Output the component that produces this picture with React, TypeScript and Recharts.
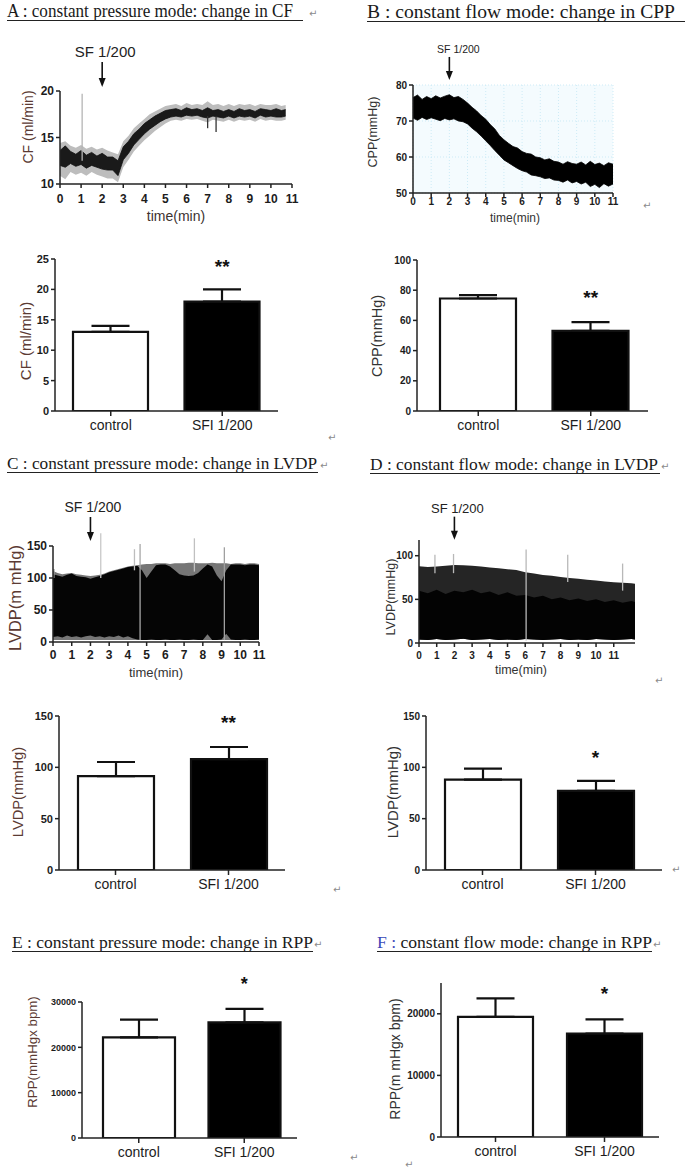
import React from 'react'
import {
  ComposedChart, BarChart, Bar, Area, XAxis, YAxis, Cell, ErrorBar,
  ReferenceDot, ReferenceLine, CartesianGrid,
} from 'recharts'

const SANS = '"Liberation Sans", Arial, sans-serif'
const SERIF = '"Liberation Serif", "Times New Roman", serif'
const INK = '#1c1c1c'
const BROWN = '#5b3a33'
const AX = { stroke: '#222', strokeWidth: 1.5 }

// ---- shared
const minuteTicks = [0, 1, 2, 3, 4, 5, 6, 7, 8, 9, 10, 11]
const groups = ['control', 'SFI 1/200']

// ---- A: constant pressure, CF trace (ml/min)
const cfTime = [0, 0.25, 0.5, 0.75, 1, 1.25, 1.5, 1.75, 2, 2.25, 2.5, 2.75, 3, 3.25, 3.5, 3.75, 4, 4.25, 4.5, 4.75, 5, 5.25, 5.5, 5.75, 6, 6.25, 6.5, 6.75, 7, 7.25, 7.5, 7.75, 8, 8.25, 8.5, 8.75, 9, 9.25, 9.5, 9.75, 10, 10.25, 10.5, 10.7]
const cfCoreHi = [13.6, 14.1, 13.5, 13.2, 13.6, 13.1, 13.4, 13.0, 13.3, 12.9, 12.9, 12.5, 14.0, 14.6, 15.4, 15.9, 16.5, 16.9, 17.3, 17.6, 17.9, 18.0, 18.1, 17.9, 18.2, 18.0, 18.1, 17.9, 18.2, 17.9, 18.0, 17.8, 18.0, 17.8, 18.1, 17.9, 18.0, 17.8, 18.1, 18.0, 17.9, 18.1, 17.9, 18.0]
const cfCoreLo = [12.0, 11.8, 12.2, 11.9, 12.1, 11.7, 12.0, 11.8, 11.6, 11.5, 11.5, 10.9, 12.6, 13.3, 14.2, 14.8, 15.4, 15.9, 16.3, 16.7, 17.0, 17.2, 17.3, 17.2, 17.4, 17.3, 17.4, 17.2, 17.1, 17.3, 17.2, 17.1, 17.3, 17.1, 17.3, 17.2, 17.3, 17.1, 17.4, 17.2, 17.3, 17.2, 17.2, 17.3]
const cfHaloHi = [14.4, 14.6, 14.1, 13.9, 14.2, 13.8, 14.0, 13.7, 13.9, 13.6, 13.4, 13.2, 14.6, 15.2, 16.0, 16.5, 17.0, 17.5, 17.8, 18.1, 18.4, 18.5, 18.6, 18.4, 18.7, 18.5, 18.6, 18.5, 18.9, 18.5, 18.6, 18.4, 18.6, 18.4, 18.6, 18.5, 18.6, 18.4, 18.6, 18.5, 18.5, 18.6, 18.4, 18.5]
const cfHaloLo = [10.9, 10.5, 11.3, 11.0, 11.2, 10.9, 11.3, 11.0, 10.8, 10.6, 10.6, 10.2, 11.8, 12.6, 13.5, 14.1, 14.7, 15.2, 15.7, 16.1, 16.5, 16.8, 16.9, 16.8, 17.0, 16.9, 17.0, 16.8, 16.6, 16.9, 16.8, 16.7, 16.9, 16.7, 16.9, 16.8, 16.9, 16.7, 17.0, 16.8, 16.9, 16.8, 16.8, 16.9]
const cfSpikeT = [1.05, 7.0, 7.4]
const cfSpikeFrom = [12.5, 17.3, 17.2]
const cfSpikeTo = [19.7, 16.0, 15.6]

// ---- B: constant flow, CPP trace (mmHg)
const cppTime = [0, 0.25, 0.5, 0.75, 1, 1.25, 1.5, 1.75, 2, 2.25, 2.5, 2.75, 3, 3.25, 3.5, 3.75, 4, 4.25, 4.5, 4.75, 5, 5.25, 5.5, 5.75, 6, 6.25, 6.5, 6.75, 7, 7.25, 7.5, 7.75, 8, 8.25, 8.5, 8.75, 9, 9.25, 9.5, 9.75, 10, 10.25, 10.5, 10.75, 11]
const cppHi = [76.5, 77.2, 76.0, 76.8, 76.2, 77.0, 76.4, 76.9, 77.3, 76.5, 76.8, 76.0, 75.0, 73.8, 72.8, 71.5, 70.5, 69.0, 67.8, 66.0, 64.8, 63.8, 62.9, 62.5, 61.5, 61.0, 60.8, 60.0, 59.8, 59.2, 59.5, 58.8, 58.6, 58.0, 58.7, 58.2, 58.0, 58.6, 57.8, 58.8, 57.9, 58.3, 57.6, 58.4, 58.0]
const cppLo = [70.8, 70.2, 71.0, 70.4, 70.9, 70.5, 70.1, 70.7, 70.3, 70.6, 70.0, 69.8, 69.2, 68.0, 67.0, 65.8, 64.5, 63.2, 61.8, 60.5, 59.2, 58.4, 57.6, 56.8, 56.2, 55.8, 55.0, 54.8, 54.5, 54.0, 54.2, 53.6, 53.5, 53.0, 53.6, 52.8, 53.2, 52.5, 53.0, 51.8, 52.4, 51.5, 52.6, 51.9, 52.5]

// ---- C: constant pressure, LVDP trace (mmHg)
const lvpTime = cppTime
const lvpEnv = [111, 108, 106, 107, 108, 106, 105, 104, 103, 104, 105, 107, 110, 112, 114, 116, 118, 119, 120, 121, 122, 122, 123, 123, 123, 122, 123, 123, 123, 124, 124, 123, 123, 123, 124, 123, 123, 123, 122, 123, 123, 122, 123, 123, 122]
const lvpTop = [106, 104, 102, 105, 107, 103, 102, 101, 99, 101, 103, 106, 109, 111, 113, 115, 117, 118, 119, 112, 100, 110, 120, 121, 121, 118, 112, 106, 104, 103, 104, 108, 115, 121, 118, 104, 95, 112, 121, 121, 121, 120, 121, 121, 120]
const lvpBase = [8, 9, 7, 10, 8, 9, 7, 9, 10, 8, 9, 7, 9, 8, 10, 7, 9, 6, 4, 3, 3, 4, 3, 3, 4, 3, 3, 4, 3, 3, 4, 3, 3, 12, 3, 3, 4, 13, 4, 3, 3, 4, 3, 3, 4]
const lvpSpikeT = [0.05, 2.55, 4.35, 4.65, 7.55, 9.15]
const lvpSpikeFrom = [100, 100, 112, 3, 110, 3]
const lvpSpikeTo = [114, 170, 145, 153, 162, 148]

// ---- D: constant flow, LVDP trace (mmHg)
const lvfTime = [0, 0.5, 1, 1.5, 2, 2.5, 3, 3.5, 4, 4.5, 5, 5.5, 6, 6.5, 7, 7.5, 8, 8.5, 9, 9.5, 10, 10.5, 11, 11.5, 12, 12.2]
const lvfEnv = [88, 87, 87.5, 88.5, 89.5, 89, 88.5, 87.5, 86.5, 85.5, 84.5, 83.5, 81, 79.5, 78, 77, 75.5, 74.5, 73.5, 72.5, 71.5, 70.5, 69.5, 69, 68.5, 68]
const lvfTop = [60, 57, 61, 56, 60, 58, 61, 57, 59, 55, 58, 54, 55, 52, 54, 50, 52, 49, 51, 48, 50, 47, 49, 46, 48, 47]
const lvfBase = [4, 3.5, 4.5, 3.5, 4, 5, 3.5, 4, 4.5, 3.5, 4, 3.5, 4.5, 4, 3.5, 4, 4.5, 3.5, 4, 3.5, 4.5, 4, 3.5, 4, 4.5, 4]
const lvfSpikeT = [0.9, 1.95, 6.05, 8.4, 11.5]
const lvfSpikeFrom = [80, 80, 3, 70, 60]
const lvfSpikeTo = [101, 102, 107, 101, 91]

// ---- bar summaries (mean, SEM)
const cfMean = [13, 18]
const cfSem = [1, 2]
const cppMean = [74.5, 53]
const cppSem = [2.3, 5.8]
const lvpMean = [91.5, 108]
const lvpSem = [13.7, 11.8]
const lvfMean = [88, 77]
const lvfSem = [10.8, 9.8]
const rppPMean = [22200, 25500]
const rppPSem = [3900, 3000]
const rppFMean = [19500, 16800]
const rppFSem = [3000, 2300]

const cfRows = cfTime.map((t, i) => ({ t, halo: [cfHaloLo[i], cfHaloHi[i]], core: [cfCoreLo[i], cfCoreHi[i]] }))
const cppRows = cppTime.map((t, i) => ({ t, band: [cppLo[i], cppHi[i]] }))
const lvpRows = lvpTime.map((t, i) => ({ t, env: [3, lvpEnv[i]], core: [lvpBase[i], lvpTop[i]] }))
const lvfRows = lvfTime.map((t, i) => ({ t, env: [lvfBase[i], lvfEnv[i]], core: [lvfBase[i], lvfTop[i]] }))

function Arrow(p: any) {
  const { cx, cy, len, gap, size, dx } = p
  return (
    <g>
      <text x={cx + dx} y={cy - len - gap} textAnchor="middle" fontSize={size} fontFamily={SANS} fill="#222">SF 1/200</text>
      <line x1={cx} y1={cy - len} x2={cx} y2={cy - 7} stroke="#111" strokeWidth={1.6} />
      <path d={`M${cx - 3.5},${cy - 9}L${cx + 3.5},${cy - 9}L${cx},${cy}Z`} fill="#111" />
    </g>
  )
}

const stars = (txt: string, size: number) => (p: any) => (
  <text x={p.cx} y={p.cy + size * 0.56} textAnchor="middle" fontSize={size} fontWeight="bold" fontFamily={SANS} fill="#111">{txt}</text>
)

function spikes(ts: number[], from: number[], to: number[], colors: string[]) {
  return ts.map((t, i) => (
    <ReferenceLine key={'s' + i} segment={[{ x: t, y: from[i] }, { x: t, y: to[i] }]}
      stroke={colors[i % colors.length]} strokeWidth={1.3} ifOverflow="visible" />
  ))
}

type TraceProps = {
  x: number; y: number; w: number; h: number; yW: number; mTop: number; xH: number
  rows: any[]; xDomain: [number, number]; yDomain: [number, number]; yTicks: number[]
  tickFont: number; tickGap: number; grid?: boolean; children: React.ReactNode
}

function TracePanel(p: TraceProps) {
  const mR = 10
  const tick = { fontSize: p.tickFont, fontWeight: 'bold', fill: INK, fontFamily: SANS }
  return (
    <div style={{ position: 'absolute', left: p.x - p.yW, top: p.y - p.mTop }}>
      <ComposedChart width={p.yW + p.w + mR} height={p.mTop + p.h + p.xH} data={p.rows}
        margin={{ top: p.mTop, right: mR, bottom: 0, left: 0 }}>
        {p.grid && <CartesianGrid stroke="#cdebf6" strokeDasharray="1 2" fill="#f4fbfe" />}
        <XAxis type="number" dataKey="t" domain={p.xDomain} ticks={minuteTicks} interval={0} allowDataOverflow
          height={p.xH} tickSize={4} tickMargin={p.tickGap - 4} axisLine={AX} tickLine={AX} tick={tick} />
        <YAxis type="number" domain={p.yDomain} ticks={p.yTicks} interval={0} allowDataOverflow
          width={p.yW} tickSize={4} tickMargin={2} axisLine={AX} tickLine={AX} tick={tick} />
        {p.children}
      </ComposedChart>
    </div>
  )
}

type BarProps = {
  x: number; y: number; w: number; h: number; yW: number; mTop: number
  mean: number[]; sem: number[]; domain: [number, number]; ticks: number[]
  tickFont: number; barW: number; pad?: { left: number; right: number }
  star: string; starY: number; starSize: number
}

function BarPanel(p: BarProps) {
  const mR = 12
  const xH = 28
  const rows = groups.map((g, i) => ({ g, v: p.mean[i], e: [0, p.sem[i]] }))
  return (
    <div style={{ position: 'absolute', left: p.x - p.yW, top: p.y - p.mTop }}>
      <BarChart width={p.yW + p.w + mR} height={p.mTop + p.h + xH} data={rows}
        margin={{ top: p.mTop, right: mR, bottom: 0, left: 0 }}>
        <XAxis dataKey="g" height={xH} padding={p.pad ?? { left: 0, right: 0 }} interval={0}
          tickSize={5} tickMargin={4} axisLine={AX} tickLine={AX}
          tick={{ fontSize: 14, fill: INK, fontFamily: SANS }} />
        <YAxis type="number" domain={p.domain} ticks={p.ticks} interval={0} allowDataOverflow width={p.yW}
          tickSize={4} tickMargin={2} axisLine={AX} tickLine={AX}
          tick={{ fontSize: p.tickFont, fontWeight: 'bold', fill: INK, fontFamily: SANS }} />
        <Bar dataKey="v" barSize={p.barW} stroke="#111" strokeWidth={2.2} isAnimationActive={false}>
          {rows.map((r, i) => <Cell key={r.g} fill={i === 0 ? '#fff' : '#000'} />)}
          <ErrorBar dataKey="e" width={19} strokeWidth={2.2} stroke="#111" direction="y" />
        </Bar>
        <ReferenceDot x={groups[1]} y={p.starY} r={0} ifOverflow="visible" shape={stars(p.star, p.starSize)} />
      </BarChart>
    </div>
  )
}

function Title({ x, y, len, size, end, children }: any) {
  return (
    <g>
      <text x={x} y={y} textLength={len} lengthAdjust="spacingAndGlyphs" fontSize={size} fontFamily={SERIF} fill="#1a1a1a">{children}</text>
      <line x1={x} y1={y + 3.5} x2={end} y2={y + 3.5} stroke="#222" strokeWidth={1} />
    </g>
  )
}

function AxisTitle({ x, y, size, fill = '#333', rotate = true, children }: any) {
  return (
    <text x={x} y={y} transform={rotate ? `rotate(-90 ${x} ${y})` : undefined} textAnchor="middle"
      dominantBaseline="central" fontSize={size} fontFamily={SANS} fill={fill}>{children}</text>
  )
}

function Ret({ x, y }: { x: number; y: number }) {
  return <text x={x} y={y} fontSize={10} fontFamily="DejaVu Sans" fill="#8a8a8a">↵</text>
}

export default function App() {
  return (
    <div style={{ position: 'absolute', left: 0, top: 0, width: 685, height: 1175, background: '#fff', overflow: 'hidden' }}>
      <svg width={685} height={1175} style={{ position: 'absolute', left: 0, top: 0 }}>
        <Title x={7} y={17} len={286} size={18} end={303}>A : constant pressure mode: change in CF</Title>
        <Title x={367} y={18} len={308} size={19} end={685}>B : constant flow mode: change in CPP</Title>
        <Title x={7} y={469} len={310} size={17} end={318}>C : constant pressure mode: change in LVDP</Title>
        <Title x={370} y={470} len={288} size={17} end={660}>D : constant flow mode: change in LVDP</Title>
        <Title x={12} y={948} len={301} size={17} end={313}>E : constant pressure mode: change in RPP</Title>
        <g>
          <text x={377} y={948} textLength={275} lengthAdjust="spacingAndGlyphs" fontSize={17} fontFamily={SERIF} fill="#1a1a1a">
            <tspan fill="#3a48b8">F : </tspan>constant flow mode: change in RPP
          </text>
          <line x1={377} y1={951.5} x2={652} y2={951.5} stroke="#222" strokeWidth={1} />
        </g>
        <Ret x={309} y={17} />
        <Ret x={320} y={469} />
        <Ret x={661} y={470} />
        <Ret x={314} y={948} />
        <Ret x={653} y={948} />
        <Ret x={643} y={209} />
        <Ret x={328} y={441} />
        <Ret x={655} y={684} />
        <Ret x={333} y={893} />
        <Ret x={672} y={873} />
        <Ret x={350} y={1161} />
        <Ret x={405} y={1168} />

        <AxisTitle x={28} y={127} size={14} fill={BROWN}>CF (ml/min)</AxisTitle>
        <AxisTitle x={176} y={216} size={14} fill="#3d3230" rotate={false}>time(min)</AxisTitle>
        <AxisTitle x={373} y={132} size={12.5}>CPP(mmHg)</AxisTitle>
        <AxisTitle x={515} y={218} size={12} rotate={false}>time(min)</AxisTitle>
        <AxisTitle x={25} y={341} size={15} fill={BROWN}>CF (ml/min)</AxisTitle>
        <AxisTitle x={377} y={336} size={14.5}>CPP(mmHg)</AxisTitle>
        <AxisTitle x={15} y={598} size={16.5} fill={BROWN}>LVDP(m mHg)</AxisTitle>
        <AxisTitle x={156} y={672} size={13} rotate={false}>time(min)</AxisTitle>
        <AxisTitle x={391} y={597} size={12.5}>LVDP(mmHg)</AxisTitle>
        <AxisTitle x={521} y={670} size={12.5} rotate={false}>time(min)</AxisTitle>
        <AxisTitle x={18} y={792} size={14.7} fill={BROWN}>LVDP(mmHg)</AxisTitle>
        <AxisTitle x={392} y={792} size={15}>LVDP(mmHg)</AxisTitle>
        <AxisTitle x={32} y={1052} size={13.3} fill={BROWN}>RPP(mmHgx bpm)</AxisTitle>
        <AxisTitle x={395} y={1059} size={14}>RPP(m mHgx bpm)</AxisTitle>
      </svg>

      {/* A trace */}
      <TracePanel x={60} y={91} w={232} h={93} yW={50} mTop={55} xH={24} rows={cfRows}
        xDomain={[0, 11]} yDomain={[10, 20]} yTicks={[10, 15, 20]} tickFont={12} tickGap={10}>
        <Area dataKey="halo" type="linear" stroke="none" fill="#bdbdbd" fillOpacity={1} isAnimationActive={false} dot={false} activeDot={false} />
        <Area dataKey="core" type="linear" stroke="#111" strokeWidth={0.8} fill="#1a1a1a" fillOpacity={1} isAnimationActive={false} dot={false} activeDot={false} />
        {spikes(cfSpikeT, cfSpikeFrom, cfSpikeTo, ['#b5b5b5', '#333', '#333'])}
        <ReferenceDot x={2} y={20.43} r={0} ifOverflow="visible" shape={(p: any) => <Arrow {...p} len={25} gap={5} size={15} dx={3} />} />
      </TracePanel>

      {/* B trace */}
      <TracePanel x={413} y={85} w={200} h={108} yW={45} mTop={45} xH={18} rows={cppRows} grid
        xDomain={[0, 11]} yDomain={[50, 80]} yTicks={[50, 60, 70, 80]} tickFont={10} tickGap={5}>
        <Area dataKey="band" type="linear" stroke="#000" strokeWidth={0.8} fill="#000" fillOpacity={1} isAnimationActive={false} dot={false} activeDot={false} />
        <ReferenceDot x={2} y={81.4} r={0} ifOverflow="visible" shape={(p: any) => <Arrow {...p} len={23} gap={4} size={10.5} dx={9} />} />
      </TracePanel>

      {/* A bars */}
      <BarPanel x={55} y={259} w={223} h={152} yW={50} mTop={12} mean={cfMean} sem={cfSem}
        domain={[0, 25]} ticks={[0, 5, 10, 15, 20, 25]} tickFont={11} barW={75} star="**" starY={24.5} starSize={19} />

      {/* B bars */}
      <BarPanel x={417} y={260} w={231} h={151} yW={50} mTop={12} mean={cppMean} sem={cppSem} pad={{ left: 5, right: 1 }}
        domain={[0, 100]} ticks={[0, 20, 40, 60, 80, 100]} tickFont={10} barW={76} star="**" starY={78} starSize={19} />

      {/* C trace */}
      <TracePanel x={53} y={546} w={206} h={96} yW={45} mTop={48} xH={24} rows={lvpRows}
        xDomain={[0, 11]} yDomain={[0, 150]} yTicks={[0, 50, 100, 150]} tickFont={12} tickGap={8}>
        <Area dataKey="env" type="linear" stroke="none" fill="#767676" fillOpacity={1} isAnimationActive={false} dot={false} activeDot={false} />
        <Area dataKey="core" type="linear" stroke="none" fill="#050505" fillOpacity={1} isAnimationActive={false} dot={false} activeDot={false} />
        {spikes(lvpSpikeT, lvpSpikeFrom, lvpSpikeTo, ['#9a9a9a', '#c8c8c8', '#bdbdbd', '#a8a8a8', '#c0c0c0', '#a0a0a0'])}
        <ReferenceDot x={2} y={157.8} r={0} ifOverflow="visible" shape={(p: any) => <Arrow {...p} len={24} gap={5} size={14} dx={2.5} />} />
      </TracePanel>

      {/* D trace */}
      <TracePanel x={419} y={540} w={216} h={103} yW={45} mTop={42} xH={22} rows={lvfRows}
        xDomain={[0, 12.2]} yDomain={[0, 118]} yTicks={[0, 50, 100]} tickFont={10} tickGap={9}>
        <Area dataKey="env" type="linear" stroke="none" fill="#252525" fillOpacity={1} isAnimationActive={false} dot={false} activeDot={false} />
        <Area dataKey="core" type="linear" stroke="none" fill="#030303" fillOpacity={1} isAnimationActive={false} dot={false} activeDot={false} />
        {spikes(lvfSpikeT, lvfSpikeFrom, lvfSpikeTo, ['#b8b8b8'])}
        <ReferenceDot x={2} y={118.4} r={0} ifOverflow="visible" shape={(p: any) => <Arrow {...p} len={23} gap={4} size={13} dx={3} />} />
      </TracePanel>

      {/* C bars */}
      <BarPanel x={59} y={716} w={226} h={154} yW={50} mTop={12} mean={lvpMean} sem={lvpSem}
        domain={[0, 150]} ticks={[0, 50, 100, 150]} tickFont={11} barW={76} star="**" starY={148} starSize={19} />

      {/* D bars */}
      <BarPanel x={426} y={716} w={236} h={154} yW={50} mTop={12} mean={lvfMean} sem={lvfSem} pad={{ left: 0, right: 10 }}
        domain={[0, 150]} ticks={[0, 50, 100, 150]} tickFont={10} barW={76} star="*" starY={114} starSize={19} />

      {/* E bars */}
      <BarPanel x={82} y={1002} w={215} h={136} yW={60} mTop={35} mean={rppPMean} sem={rppPSem} pad={{ left: 4, right: 0 }}
        domain={[0, 30000]} ticks={[0, 10000, 20000, 30000]} tickFont={9} barW={72} star="*" starY={34800} starSize={18} />

      {/* F bars */}
      <BarPanel x={441} y={983} w={218} h={154} yW={60} mTop={12} mean={rppFMean} sem={rppFSem}
        domain={[0, 25000]} ticks={[0, 10000, 20000]} tickFont={10} barW={75} star="*" starY={23900} starSize={19} />
    </div>
  )
}
